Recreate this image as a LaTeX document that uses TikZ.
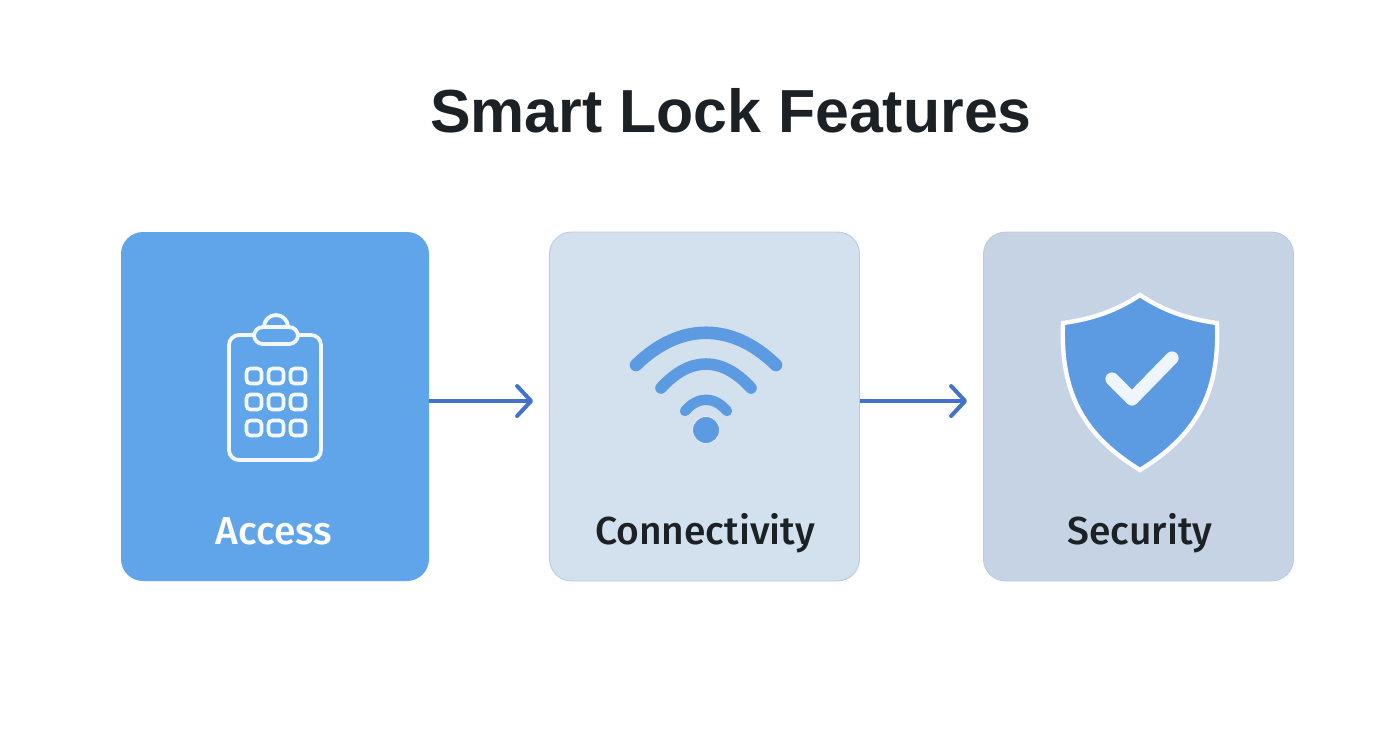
\documentclass[tikz,border=0pt]{standalone}
\usepackage{fontspec}
\setmainfont{Liberation Sans}
\newfontfamily\labelfont{Fira Sans Medium}
\usetikzlibrary{arrows.meta,calc}
\definecolor{accessblue}{HTML}{60A5EA}
\definecolor{connectblue}{HTML}{D3E0EE}
\definecolor{connectedge}{HTML}{B7CBE0}
\definecolor{securityblue}{HTML}{C6D3E4}
\definecolor{iconblue}{HTML}{5C9BE2}
\definecolor{arrowblue}{HTML}{4472C8}
\definecolor{inktext}{HTML}{1C2126}
\tikzset{
  card/.style={rectangle,rounded corners=11pt,minimum width=155pt,minimum height=174.5pt,inner sep=0pt},
  cardlabel/.style={font=\labelfont\fontsize{19.5}{23}\selectfont,text=inktext,anchor=base},
  flow/.style={arrowblue,line width=1.7pt,shorten >=8pt,-{Straight Barb[length=7pt,width=15pt,line width=2pt,round]}},
  keyline/.style={white!92!accessblue,line width=1.9pt},
  keycell/.style={white!92!accessblue,line width=1.8pt,rounded corners=2pt},
  wave/.style={iconblue,line cap=round},
}
\begin{document}
\begin{tikzpicture}[x=0.5pt,y=-0.5pt]
    \useasboundingbox (0,0) rectangle (1392,752);
    \node[font=\bfseries\fontsize{30.4}{36}\selectfont,text=inktext](title) at (731,111) {Smart Lock Features};

    \node[card,fill=accessblue,minimum width=154pt](access) at (275,406.5) {};
    \node[card,fill=connectblue,draw=connectedge,line width=0.4pt](connect) at (704.5,406.5) {};
    \node[card,fill=securityblue,draw=connectedge,line width=0.4pt](security) at (1138.5,406.5) {};

    \node[cardlabel,text=white](accesslabel) at (274,544) {Access};
    \node[cardlabel](connectlabel) at (705,544) {Connectivity};
    \node[cardlabel](securitylabel) at (1140,544) {Security};

    \draw[flow] ([yshift=2.75pt]access.east) -- ([yshift=2.75pt]connect.west);
    \draw[flow] ([yshift=2.75pt]connect.east) -- ([yshift=2.75pt]security.west);

    % clipboard
    \draw[keyline,rounded corners=5pt] (229,335) rectangle (321,460);
    \draw[keyline] (264,327) arc[start angle=180,end angle=360,radius=12];
    \draw[keyline,fill=accessblue,rounded corners=4.5pt] (254,327) rectangle (298,344);
    \foreach \px in {254,276,298}
      \foreach \py in {376,402,428}
        \draw[keycell] (\px-7.5,\py-7.5) rectangle (\px+7.5,\py+7.5);

    % wifi
    \fill[iconblue,draw=connectblue!60!white,line width=0.4pt] (706,430) circle[radius=13.5];
    \draw[wave,line width=6.3pt] (636,365) .. controls (680,322) and (732,322) .. (776,365);
    \draw[wave,line width=5.8pt] (661,388) .. controls (690,356) and (722,356) .. (751,388);
    \draw[wave,line width=5.2pt] (685,411) .. controls (698,396) and (714,396) .. (727,411);

    % shield
    \draw[fill=iconblue,draw=white!96!securityblue,line width=2.2pt,line join=miter]
      (1140,295) .. controls (1116,311) and (1092,319) .. (1063,323)
      .. controls (1060,395) and (1085,436) .. (1140,470)
      .. controls (1195,436) and (1220,395) .. (1217,323)
      .. controls (1188,319) and (1164,311) .. (1140,295) -- cycle;
    \draw[white!90!iconblue,line width=6.6pt,line cap=round,line join=round]
      (1112,379) -- (1132,399) -- (1172,358);
  \end{tikzpicture}
\end{document}
